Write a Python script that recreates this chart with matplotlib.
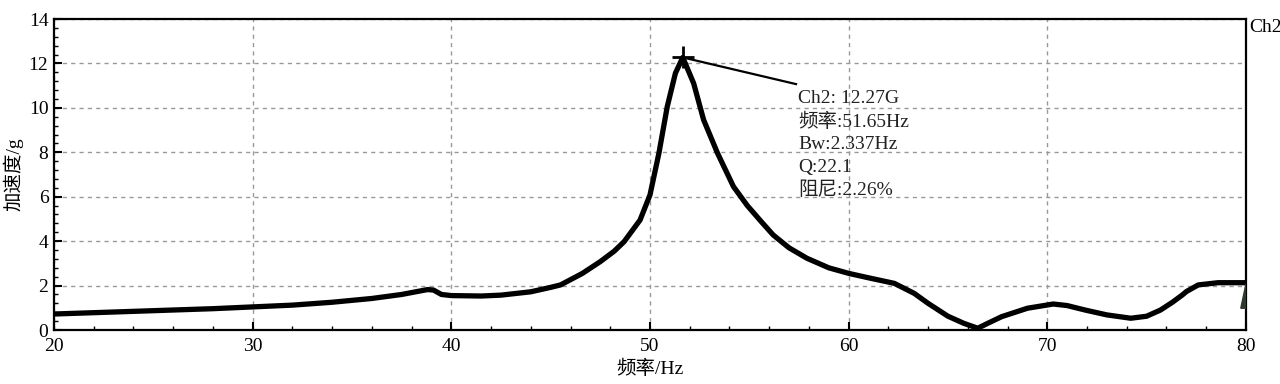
import matplotlib
import matplotlib.pyplot as plt
from matplotlib.ticker import MultipleLocator

matplotlib.use('Agg')

plt.rcParams['font.family'] = ['Liberation Serif', 'Noto Sans CJK SC']
plt.rcParams['font.size'] = 14

# frequency response
freq = [20.0, 22.0, 24.0, 26.0, 28.0, 30.0, 32.0, 34.0, 36.0, 37.5, 38.8, 39.1, 39.5, 40.0,
        41.5, 42.5, 44.0, 45.0, 45.5, 46.6, 47.5, 48.2, 48.7, 49.5, 50.0, 50.45, 50.87,
        51.28, 51.65, 52.2, 52.7, 53.4, 54.2, 54.9, 55.6, 56.2, 57.0, 57.9, 59.0, 60.0, 61.0,
        62.3, 63.3, 64.0, 65.0, 65.8, 66.5, 67.0, 67.7, 69.0, 70.3, 71.0, 71.9, 73.0,
        74.2, 75.0, 75.7, 76.3, 76.8, 77.0, 77.6, 78.6, 79.3, 80.0]
accel = [0.72, 0.78, 0.84, 0.90, 0.96, 1.04, 1.12, 1.25, 1.42, 1.60, 1.82, 1.80, 1.60, 1.55,
         1.53, 1.57, 1.72, 1.92, 2.03, 2.55, 3.08, 3.55, 3.98, 4.95, 6.08, 7.96, 10.06,
         11.56, 12.27, 11.1, 9.46, 7.96, 6.46, 5.6, 4.88, 4.28, 3.7, 3.23, 2.8, 2.55, 2.35,
         2.1, 1.65, 1.2, 0.62, 0.3, 0.08, 0.3, 0.6, 0.98, 1.17, 1.1, 0.9, 0.68,
         0.53, 0.62, 0.9, 1.25, 1.58, 1.73, 2.03, 2.13, 2.13, 2.13]

peak_f = 51.65
peak_a = 12.27
label_f = 57.35
label_a = 11.07
info = ["Ch2: 12.27G", "频率:51.65Hz", "Bw:2.337Hz", "Q:22.1", "阻尼:2.26%"]

# small dark wedge at the right edge
wedge_f = [79.74, 79.99, 80.0, 80.0]
wedge_a = [0.98, 2.03, 2.03, 0.98]

fig, ax = plt.subplots(figsize=(12.8, 3.84), dpi=100)
fig.subplots_adjust(left=0.0422, right=0.9734, bottom=0.1406, top=0.9505)

ax.plot(freq, accel, color='black', linewidth=3.8, solid_joinstyle='round',
        solid_capstyle='round', zorder=3)
ax.fill(wedge_f, wedge_a, color='#2d3b2d', zorder=4)

# peak marker and leader
ax.plot([peak_f, label_f], [peak_a, label_a], color='black', linewidth=1.6, zorder=4)
ax.plot([peak_f], [peak_a], marker='+', markersize=16, markeredgewidth=2,
        color='black', zorder=5)
ax.text(label_f + 0.1, label_a - 0.25, "\n".join(info), ha='left', va='top',
        fontsize=14, color='#222222', linespacing=1.42, zorder=5)

ax.text(1.003, 1.0, "Ch2", transform=ax.transAxes, ha='left', va='top', fontsize=14)

ax.set_xlim(20, 80)
ax.set_ylim(0, 14)
ax.xaxis.set_major_locator(MultipleLocator(10))
ax.xaxis.set_minor_locator(MultipleLocator(2))
ax.yaxis.set_major_locator(MultipleLocator(2))
ax.yaxis.set_minor_locator(MultipleLocator(0.4))
ax.tick_params(which='major', direction='in', length=6, width=1.5, pad=6, labelsize=14)
ax.tick_params(which='minor', direction='in', length=3, width=1)
ax.tick_params(axis='y', pad=4)

ax.grid(True, which='major', linestyle=(0, (3, 3)), linewidth=1, color='#999999')
for s in ax.spines.values():
    s.set_linewidth(1.6)

ax.set_xlabel("频率/Hz", fontsize=14, labelpad=3)
ax.set_ylabel("加速度/g", fontsize=14, labelpad=4)

plt.savefig("out.png", dpi=100)
plt.close(fig)
